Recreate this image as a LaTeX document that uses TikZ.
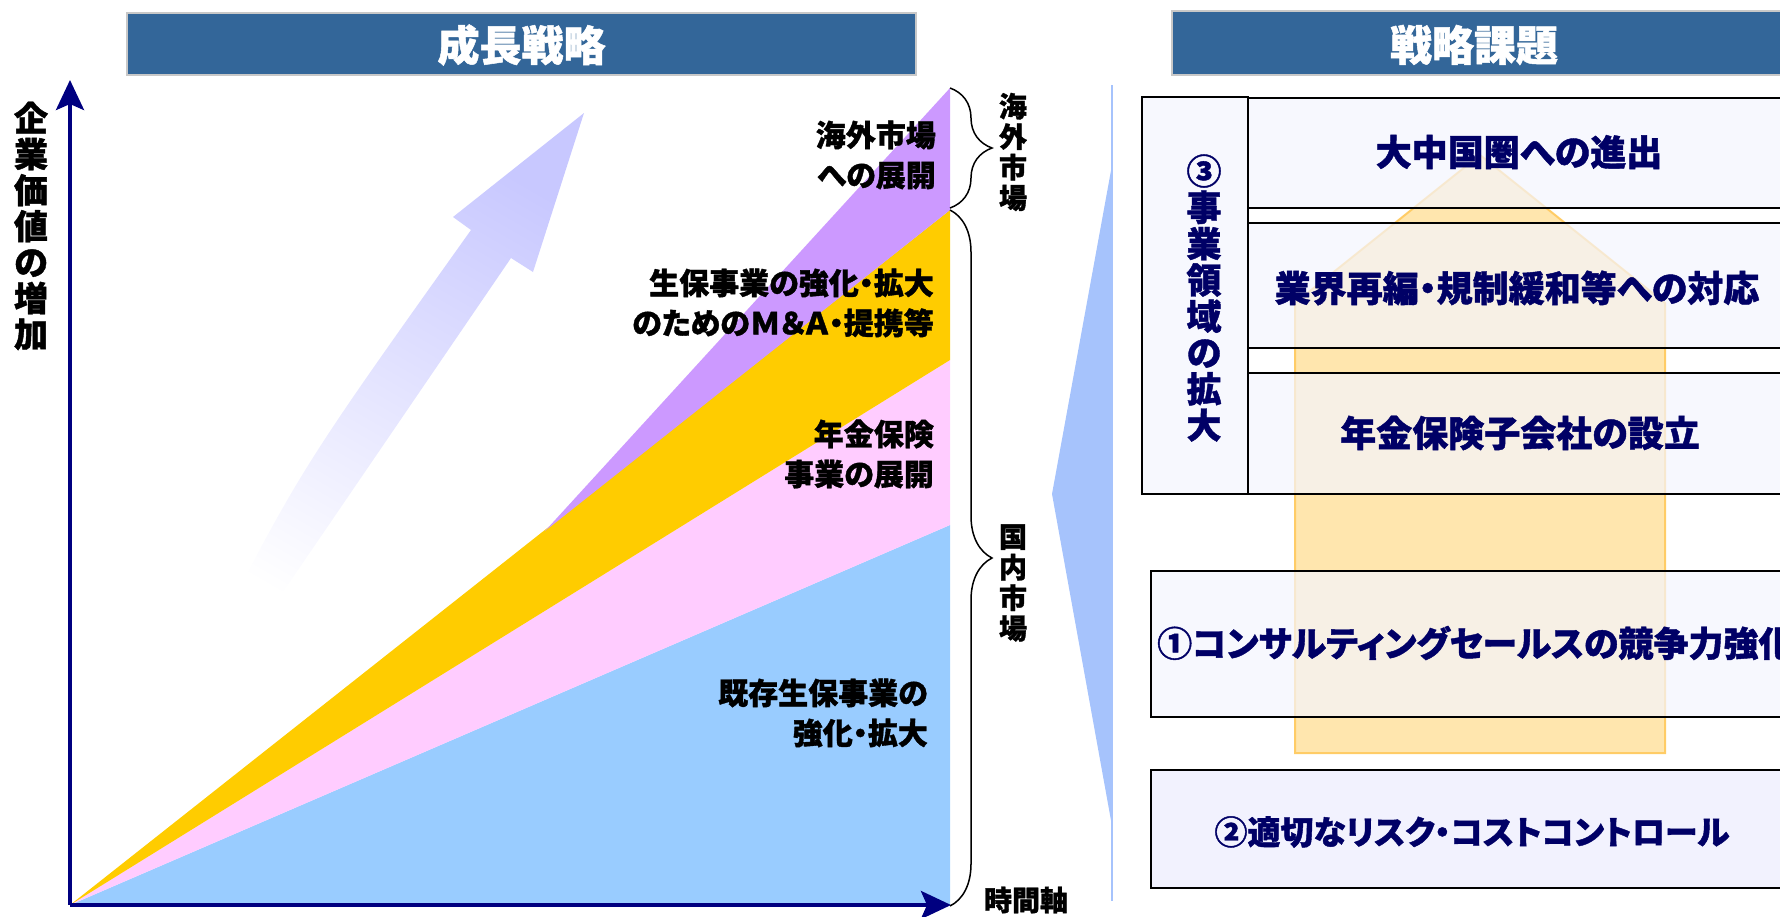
\documentclass[tikz,border=0pt]{standalone}
\usepackage{fontspec}
\setmainfont{Noto Sans CJK JP}[RawFeature=+palt, BoldFeatures={FakeBold=1.2}]
\usetikzlibrary{arrows.meta,decorations.pathreplacing}
\definecolor{hdrblue}{HTML}{336699}
\definecolor{hdrline}{HTML}{C8C8C8}
\definecolor{axisblue}{HTML}{000080}
\definecolor{bandblue}{HTML}{99CCFF}
\definecolor{bandpink}{HTML}{FFCCFF}
\definecolor{bandyellow}{HTML}{FFCC00}
\definecolor{bandpurple}{HTML}{CC99FF}
\definecolor{arrowlav}{HTML}{C8C8FF}
\definecolor{funnelc}{HTML}{A6C3FC}
\definecolor{boxfill}{HTML}{F4F5FD}
\definecolor{boxfillb}{HTML}{F0F0FE}
\definecolor{housefill}{HTML}{FFE6AE}
\definecolor{houseline}{HTML}{FFCC66}
\definecolor{navytext}{HTML}{000066}
\newcommand\setfs[2]{\fontsize{#1}{#2}\selectfont}
\begin{document}
\begin{tikzpicture}[x=1pt,y=-1pt,
  hdr/.style={fill=hdrblue, draw=hdrline, line width=2pt},
  hdrtext/.style={text=white, font=\bfseries\setfs{42}{46}, inner sep=0},
  lbl/.style={font=\bfseries\setfs{30}{40}, align=right, anchor=east, inner sep=0},
  vlbl/.style={font=\bfseries\setfs{28}{30.5}, align=center, inner sep=0},
  rbox/.style={fill=boxfill, fill opacity=0.7, draw=black, line width=1.8pt},
  rtext/.style={text=navytext, font=\bfseries\setfs{36}{40}, inner sep=0},
  bracestyle/.style={decorate, decoration={brace, amplitude=42pt}, line width=1.5pt},
  axisline/.style={draw=axisblue, line width=4pt, -{Stealth[length=30pt,width=28pt,inset=6pt]}}
]
\useasboundingbox (0,0) rectangle (1780,916);
\clip (0,0) rectangle (1780,916);

% headers
\draw[hdr] (127,13) rectangle (916,75);
\node[hdrtext] (h1) at (521.5,45) {成長戦略};
\draw[hdr] (1172,11) rectangle (1800,75);
\node[hdrtext] (h2) at (1474,45) {戦略課題};

% big faded arrow
\shade[top color=arrowlav, bottom color=white, shading angle=-30]
  (205,655) .. controls (300,470) .. (471,230) -- (453,217) -- (584,113)
  -- (533,272) -- (511,258) -- (240,655) -- cycle;

% bands
\coordinate (O) at (70,905);
\fill[bandblue] (O) -- (950,525) -- (950,905) -- cycle;
\fill[bandpink] (O) -- (950,360) -- (950,525) -- cycle;
\fill[bandyellow] (O) -- (950,210) -- (950,360) -- cycle;
\fill[bandpurple] (545,531) -- (950,88) -- (950,210) -- cycle;

% axes
\coordinate (ytop) at (70,80);
\coordinate (xend) at (951,905);
\draw[axisline] (O) -- (ytop);
\draw[axisline] (O) -- (xend);

\node[font=\bfseries\setfs{34}{36}, align=center, inner sep=0] (ylab) at (31,226)
  {企\\業\\価\\値\\の\\増\\加};

% chart labels
\node[lbl] (l1) at (936,155) {海外市場\\への展開};
\node[lbl] (l2) at (934,303) {生保事業の強化・拡大\\のためのＭ＆Ａ・提携等};
\node[lbl] (l3) at (934,454) {年金保険\\事業の展開};
\node[lbl] (l4) at (928,713) {既存生保事業の\\強化・拡大};

% braces
\coordinate (b1t) at (950,88);
\coordinate (b1b) at (950,208);
\coordinate (b2t) at (950,210);
\coordinate (b2b) at (950,906);
\draw[bracestyle] (b1t) -- (b1b);
\draw[bracestyle] (b2t) -- (b2b);
\node[vlbl] (m1) at (1013,152) {海\\外\\市\\場};
\node[vlbl] (m2) at (1013,583) {国\\内\\市\\場};
\node[font=\bfseries\setfs{28}{30}, inner sep=0] (tax) at (1026,900) {時間軸};

% funnel
\draw[funnelc, line width=1.5pt] (1112,85) -- (1112,901);
\fill[funnelc] (1112,165) -- (1052,494) -- (1112,826) -- cycle;

% house arrow
\draw[fill=housefill, draw=houseline, line width=2pt]
  (1480,155) -- (1665,303) -- (1665,753) -- (1295,753) -- (1295,303) -- cycle;

% right boxes
\draw[rbox] (1142,97) rectangle (1248,494);
\draw[rbox] (1248,98) rectangle (1800,208);
\draw[rbox] (1248,223) rectangle (1800,348);
\draw[rbox] (1248,373) rectangle (1800,494);
\draw[rbox] (1151,571) rectangle (1800,717);
\draw[rbox, fill=boxfillb, fill opacity=0.85] (1151,770) rectangle (1800,888);

\node[rtext, align=center, font=\bfseries\setfs{35}{36.3}] (c3) at (1204,298)
  {③\\事\\業\\領\\域\\の\\拡\\大};
\node[rtext] (r1) at (1519,152) {大中国圏への進出};
\node[rtext] (r2) at (1517,288) {業界再編・規制緩和等への対応};
\node[rtext] (r3) at (1520,433) {年金保険子会社の設立};
\node[rtext, anchor=west, font=\bfseries\setfs{35}{40}] (k1) at (1157,643) {①コンサルティングセールスの競争力強化};
\node[rtext, font=\bfseries\setfs{33}{36}] (k2) at (1472,832) {②適切なリスク・コストコントロール};
\end{tikzpicture}
\end{document}
